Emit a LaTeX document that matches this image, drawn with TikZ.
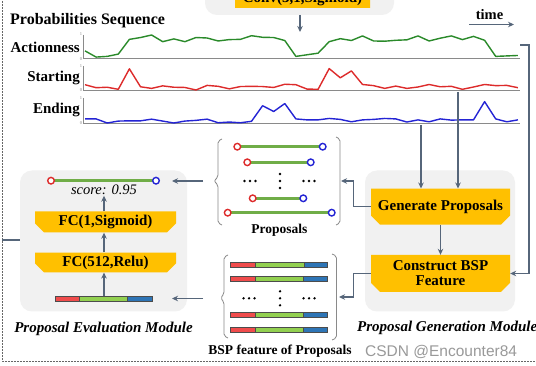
\documentclass[tikz,border=0pt]{standalone}
\usepackage{fontspec}
\setmainfont{Liberation Serif}
\newfontfamily\markfont{Liberation Sans}
\usetikzlibrary{arrows.meta,shapes.misc,positioning}

\definecolor{layergold}{HTML}{FFC000}
\definecolor{panelgrey}{HTML}{F1F1F1}
\definecolor{linkgrey}{HTML}{56667A}
\definecolor{axisgrey}{HTML}{8A8A8A}
\definecolor{actgreen}{HTML}{2A8A2A}
\definecolor{startred}{HTML}{DD2B2B}
\definecolor{endblue}{HTML}{2424D4}
\definecolor{segred}{HTML}{F04C4C}
\definecolor{seggreen}{HTML}{92D050}
\definecolor{segblue}{HTML}{2E75B6}
\definecolor{spangreen}{HTML}{70AD47}

\newcommand\txt[1]{\fontsize{#1}{#1}\selectfont}

\tikzset{
  panel/.style={fill=panelgrey, rounded corners=12pt},
  layer/.style={chamfered rectangle, chamfered rectangle corners={south west,south east},
    chamfered rectangle xsep=6pt, fill=layergold, inner sep=0pt,
    font=\txt{15}\bfseries, align=center},
  link/.style={draw=linkgrey, line width=1.2pt, -{Stealth[length=6pt,width=5.5pt]}},
  plainlink/.style={draw=linkgrey, line width=1.2pt},
  axis/.style={draw=axisgrey, line width=0.7pt},
  prob/.style={line width=1.4pt, line join=round},
  bracket/.style={draw=axisgrey, line width=0.8pt, rounded corners=2pt},
  tick/.style={font=\txt{4.5}, text=axisgrey, inner sep=0pt},
  rowname/.style={font=\txt{15}\bfseries, anchor=base east, inner sep=0pt},
  caption/.style={font=\txt{13.5}\bfseries, anchor=base, inner sep=0pt},
  modname/.style={font=\txt{15}\bfseries\itshape, inner sep=0pt},
}

% one proposal: start/end markers joined by a bar
\newcommand\propspan[3]{
  \draw[spangreen, line width=3pt] (#1,#3) -- (#2,#3);
  \draw[startred, line width=1.4pt, fill=white] (#1,#3) circle [radius=3.3pt];
  \draw[endblue, line width=1.4pt, fill=white] (#2,#3) circle [radius=3.3pt];
}
% one BSP feature: start / center / end segments
\newcommand\bspbar[5]{
  \draw[fill=segred, draw=black!70, line width=0.5pt] (#1,#5-2.5) rectangle (#2,#5+2.5);
  \draw[fill=seggreen, draw=black!70, line width=0.5pt] (#2,#5-2.5) rectangle (#3,#5+2.5);
  \draw[fill=segblue, draw=black!70, line width=0.5pt] (#3,#5-2.5) rectangle (#4,#5+2.5);
}
\newcommand\rowdots[2]{
  \foreach \d in {-5.5,0,5.5} \fill (#1+\d,#2) circle [radius=1.3pt];
}
\newcommand\coldots[2]{
  \foreach \d in {-7,0,7} \fill (#1,#2+\d) circle [radius=1.3pt];
}

\begin{document}
\begin{tikzpicture}[x=1pt,y=-1pt]
\clip (0,0) rectangle (536,366);
\fill[white] (0,0) rectangle (536,366);
%\draw[help lines, step=50] (0,0) grid (536,366);

% outer dashed frame
\draw[black!60, line width=0.6pt, dash pattern=on 1.6pt off 1.4pt] (2,-5) -- (2,361) -- (540,361);

% conv layer on top
\fill[panel] (205,-40) rectangle (394,15);
\node[layer, minimum width=135pt, minimum height=34pt] (convbox) at (302.5,-9) {};
\node[font=\txt{15}\bfseries, anchor=base, inner sep=0pt] (convtxt) at (302.5,3) {Conv(3,1,Sigmoid)};
\coordinate (convout) at (300,15);
\coordinate (seqin) at (300,32);
\draw[link] (convout) -- (seqin);

% probability sequences
\node[font=\txt{16}\bfseries, anchor=base west, inner sep=0pt] (seqtitle) at (10,24.5) {Probabilities Sequence};
\node[font=\txt{14.5}\bfseries, anchor=base, inner sep=0pt] (timetxt) at (489.5,19.5) {time};
\coordinate (timea) at (469,24.5);
\coordinate (timeb) at (514,24.5);
\draw[link] (timea) -- (timeb);

\node[rowname] (actname) at (80,52.3) {Actionness};
\node[rowname] (startname) at (80,81.5) {Starting};
\node[rowname] (endname) at (80,113.3) {Ending};

\draw[axis] (83,35) -- (83,58) -- (520,58);
\draw[axis] (83,66) -- (83,90) -- (520,90);
\draw[axis] (83,98) -- (83,123) -- (520,123);
\node[tick] (act1) at (81,34.5) {1};
\node[tick] (act0) at (81,59) {0};
\node[tick] (start1) at (81,66) {1};
\node[tick] (start0) at (81,90.5) {0};
\node[tick] (end1) at (81,98) {1};
\node[tick] (end0) at (81,123.5) {0};

\draw[prob, actgreen] (85,{58-23*0.31}) \foreach \v [count=\i] in
  {0.04,0.07,0.17,0.81,0.89,1.0,0.71,0.83,0.71,0.89,0.87,0.74,0.8,0.81,0.97,0.9,0.89,0.76,0.07,
   0.14,0.21,0.71,0.84,0.76,0.96,0.74,0.73,0.77,0.79,0.96,0.74,0.86,0.96,0.8,0.94,0.77,0.07,0.09,0.11}
  { -- ({85+11.1*\i},{58-23*\v}) };
\draw[prob, startred] (85,{90-23*0.23}) \foreach \v [count=\i] in
  {0.1,0.12,0.03,0.92,0.14,0.07,0.18,0.12,0.11,0.0,0.2,0.16,0.05,0.15,0.16,0.15,0.11,0.25,0.23,
   0.04,0.03,0.93,0.53,0.83,0.24,0.19,0.07,0.17,0.07,0.13,0.24,0.14,0.16,0.03,0.13,0.24,0.19,0.2,0.1}
  { -- ({85+11.1*\i},{90-23*\v}) };
\draw[prob, endblue] (85,{123-24*0.17}) \foreach \v [count=\i] in
  {0.17,0.0,0.08,0.09,0.09,0.16,0.08,0.0,0.08,0.11,0.16,0.01,0.04,0.01,0.07,0.72,0.48,0.81,0.17,
   0.13,0.13,0.19,0.15,0.05,0.13,0.15,0.19,0.17,0.04,0.13,0.05,0.17,0.12,0.13,0.13,0.89,0.17,0.05,0.13}
  { -- ({85+11.1*\i},{123-24*\v}) };

% proposal evaluation module
\node[panel, minimum width=167pt, minimum height=141pt] (evalpanel) at (103.5,241) {};
\propspan{51}{156}{180.7}
\node[font=\txt{14.5}\itshape, anchor=base, inner sep=1pt] (score) at (104,194.3) {score: 0.95};
\node[layer, minimum width=141pt, minimum height=21pt] (fcsig) at (105.5,222) {FC(1,Sigmoid)};
\node[layer, minimum width=141pt, minimum height=19pt] (fcrelu) at (105.5,262.5) {FC(512,Relu)};
\bspbar{55}{79}{127}{152}{299}
\coordinate (evalbar) at (104,296.5);
\draw[link] (evalbar) -- (fcrelu.south -| evalbar);
\draw[link] (fcrelu.north -| evalbar) -- (fcsig.south -| evalbar);
\draw[link] (fcsig.north -| evalbar) -- (score.south -| evalbar);
\node[modname, anchor=base] (evalname) at (103.5,333) {Proposal Evaluation Module};
\coordinate (framejoin) at (2,240);
\draw[plainlink] (framejoin) -- (evalpanel.west |- framejoin);

% proposals
\draw[bracket] (222,139) -- (218,141) -- (218,177) -- (214,181) -- (218,185) -- (218,223) -- (222,225);
\draw[bracket] (336,137) -- (340,139) -- (340,223) -- (336,225);
\propspan{237.3}{322.7}{146.7}
\propspan{247.3}{310.7}{162.3}
\rowdots{250}{181}
\coldots{280}{181}
\rowdots{309}{181}
\propspan{252.7}{303.3}{198.3}
\propspan{227.7}{331.7}{212.7}
\node[caption] (propname) at (279.3,234) {Proposals};

% BSP features
\draw[bracket] (228,255) -- (224,257) -- (224,294) -- (220.5,298) -- (224,302) -- (224,336) -- (228,338);
\draw[bracket] (332,254) -- (336.5,256) -- (336.5,338) -- (332,340);
\bspbar{230.7}{255.7}{304.3}{327.3}{264.3}
\bspbar{230.7}{255.2}{303.5}{327.3}{279}
\rowdots{249}{298.3}
\coldots{280}{298.3}
\rowdots{309}{298.3}
\bspbar{230.7}{255.2}{303.5}{327.3}{315}
\bspbar{230.7}{255.2}{303.5}{327.3}{329.3}
\node[caption] (bspname) at (280,354.3) {BSP feature of Proposals};

\coordinate (propout) at (203,181);
\coordinate (evalin1) at (172,181);
\coordinate (bspout) at (203,298.5);
\coordinate (evalin2) at (172,298.5);
\draw[link] (propout) -- (evalin1);
\draw[link] (bspout) -- (evalin2);

% proposal generation module
\node[panel, minimum width=150pt, minimum height=141pt] (genpanel) at (440,241) {};
\node[layer, minimum width=139pt, minimum height=36pt] (genbox) at (440.5,206.7) {Generate Proposals};
\node[layer, minimum width=139pt, minimum height=37pt] (conbox) at (440.5,273.5) {Construct BSP\\Feature};
\draw[link] (genbox.south) -- (conbox.north);
\node[modname, anchor=base west] (genname) at (357,332) {Proposal Generation Module};

\coordinate (endtap) at (421,125.5);
\coordinate (starttap) at (458,92);
\coordinate (acttap) at (520,45);
\draw[link] (endtap) -- (endtap |- genbox.north);
\draw[link] (starttap) -- (starttap |- genbox.north);
\draw[link] (acttap) -- ++(9,0) |- (conbox.east);

\coordinate (propin) at (341,181);
\coordinate (bspin) at (339,297);
\draw[link] (genbox.west) -- ++(-17,0) |- (propin);
\draw[link] (conbox.west) -- ++(-17,0) |- (bspin);

% watermark
\node[font=\markfont\txt{15.5}, text=black!40, anchor=base west, inner sep=0pt] (mark) at (365,356) {CSDN @Encounter84};
\end{tikzpicture}
\end{document}
